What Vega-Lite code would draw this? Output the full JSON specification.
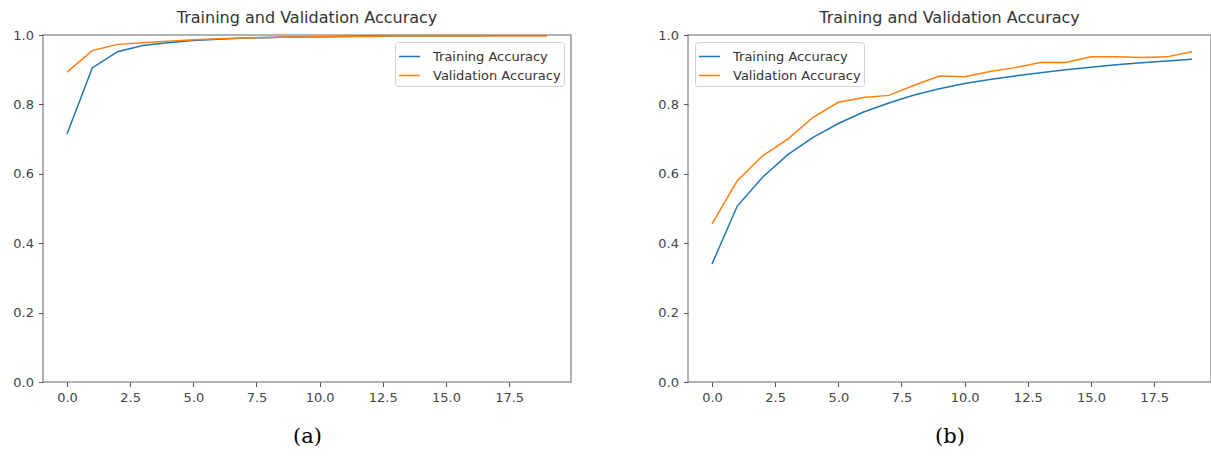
{
  "$schema": "https://vega.github.io/schema/vega-lite/v6.json",
  "background": "white",
  "padding": {"left": 12, "top": 9, "right": 0, "bottom": 0},
  "bounds": "flush",
  "spacing": 117,
  "config": {
    "font": "DejaVu Sans",
    "view": {"stroke": "#999999", "strokeWidth": 1.5},
    "axis": {
      "grid": false,
      "domain": false,
      "tickColor": "#555555",
      "tickSize": 4.5,
      "tickWidth": 1,
      "labelFont": "DejaVu Sans",
      "labelFontSize": 13,
      "labelColor": "#444444",
      "labelPadding": 5
    },
    "title": {"font": "DejaVu Sans", "fontSize": 16, "fontWeight": "normal", "color": "#333333", "offset": 3},
    "legend": {
      "labelFont": "DejaVu Sans",
      "labelFontSize": 13,
      "labelColor": "#333333",
      "symbolType": "stroke",
      "symbolSize": 441,
      "symbolStrokeWidth": 1.5,
      "labelOffset": 12,
      "rowPadding": 0,
      "padding": 3,
      "offset": 7,
      "strokeColor": "#d0d0d0",
      "fillColor": "white",
      "cornerRadius": 3
    }
  },
  "datasets": {
    "a": [
      {"epoch": 0, "series": "Training Accuracy", "accuracy": 0.715},
      {"epoch": 1, "series": "Training Accuracy", "accuracy": 0.905},
      {"epoch": 2, "series": "Training Accuracy", "accuracy": 0.952},
      {"epoch": 3, "series": "Training Accuracy", "accuracy": 0.970},
      {"epoch": 4, "series": "Training Accuracy", "accuracy": 0.978},
      {"epoch": 5, "series": "Training Accuracy", "accuracy": 0.984},
      {"epoch": 6, "series": "Training Accuracy", "accuracy": 0.988},
      {"epoch": 7, "series": "Training Accuracy", "accuracy": 0.991},
      {"epoch": 8, "series": "Training Accuracy", "accuracy": 0.993},
      {"epoch": 9, "series": "Training Accuracy", "accuracy": 0.994},
      {"epoch": 10, "series": "Training Accuracy", "accuracy": 0.995},
      {"epoch": 11, "series": "Training Accuracy", "accuracy": 0.996},
      {"epoch": 12, "series": "Training Accuracy", "accuracy": 0.997},
      {"epoch": 13, "series": "Training Accuracy", "accuracy": 0.997},
      {"epoch": 14, "series": "Training Accuracy", "accuracy": 0.998},
      {"epoch": 15, "series": "Training Accuracy", "accuracy": 0.998},
      {"epoch": 16, "series": "Training Accuracy", "accuracy": 0.998},
      {"epoch": 17, "series": "Training Accuracy", "accuracy": 0.999},
      {"epoch": 18, "series": "Training Accuracy", "accuracy": 0.999},
      {"epoch": 19, "series": "Training Accuracy", "accuracy": 0.999},
      {"epoch": 0, "series": "Validation Accuracy", "accuracy": 0.893},
      {"epoch": 1, "series": "Validation Accuracy", "accuracy": 0.955},
      {"epoch": 2, "series": "Validation Accuracy", "accuracy": 0.973},
      {"epoch": 3, "series": "Validation Accuracy", "accuracy": 0.978},
      {"epoch": 4, "series": "Validation Accuracy", "accuracy": 0.982},
      {"epoch": 5, "series": "Validation Accuracy", "accuracy": 0.986},
      {"epoch": 6, "series": "Validation Accuracy", "accuracy": 0.989},
      {"epoch": 7, "series": "Validation Accuracy", "accuracy": 0.991},
      {"epoch": 8, "series": "Validation Accuracy", "accuracy": 0.993},
      {"epoch": 9, "series": "Validation Accuracy", "accuracy": 0.994},
      {"epoch": 10, "series": "Validation Accuracy", "accuracy": 0.995},
      {"epoch": 11, "series": "Validation Accuracy", "accuracy": 0.996},
      {"epoch": 12, "series": "Validation Accuracy", "accuracy": 0.996},
      {"epoch": 13, "series": "Validation Accuracy", "accuracy": 0.997},
      {"epoch": 14, "series": "Validation Accuracy", "accuracy": 0.997},
      {"epoch": 15, "series": "Validation Accuracy", "accuracy": 0.997},
      {"epoch": 16, "series": "Validation Accuracy", "accuracy": 0.997},
      {"epoch": 17, "series": "Validation Accuracy", "accuracy": 0.997},
      {"epoch": 18, "series": "Validation Accuracy", "accuracy": 0.997},
      {"epoch": 19, "series": "Validation Accuracy", "accuracy": 0.997}
    ],
    "b": [
      {"epoch": 0, "series": "Training Accuracy", "accuracy": 0.340},
      {"epoch": 1, "series": "Training Accuracy", "accuracy": 0.507},
      {"epoch": 2, "series": "Training Accuracy", "accuracy": 0.590},
      {"epoch": 3, "series": "Training Accuracy", "accuracy": 0.655},
      {"epoch": 4, "series": "Training Accuracy", "accuracy": 0.705},
      {"epoch": 5, "series": "Training Accuracy", "accuracy": 0.745},
      {"epoch": 6, "series": "Training Accuracy", "accuracy": 0.778},
      {"epoch": 7, "series": "Training Accuracy", "accuracy": 0.804},
      {"epoch": 8, "series": "Training Accuracy", "accuracy": 0.827},
      {"epoch": 9, "series": "Training Accuracy", "accuracy": 0.845},
      {"epoch": 10, "series": "Training Accuracy", "accuracy": 0.860},
      {"epoch": 11, "series": "Training Accuracy", "accuracy": 0.872},
      {"epoch": 12, "series": "Training Accuracy", "accuracy": 0.882},
      {"epoch": 13, "series": "Training Accuracy", "accuracy": 0.891},
      {"epoch": 14, "series": "Training Accuracy", "accuracy": 0.900},
      {"epoch": 15, "series": "Training Accuracy", "accuracy": 0.907},
      {"epoch": 16, "series": "Training Accuracy", "accuracy": 0.914},
      {"epoch": 17, "series": "Training Accuracy", "accuracy": 0.920},
      {"epoch": 18, "series": "Training Accuracy", "accuracy": 0.925},
      {"epoch": 19, "series": "Training Accuracy", "accuracy": 0.930},
      {"epoch": 0, "series": "Validation Accuracy", "accuracy": 0.456},
      {"epoch": 1, "series": "Validation Accuracy", "accuracy": 0.580},
      {"epoch": 2, "series": "Validation Accuracy", "accuracy": 0.652},
      {"epoch": 3, "series": "Validation Accuracy", "accuracy": 0.700},
      {"epoch": 4, "series": "Validation Accuracy", "accuracy": 0.763},
      {"epoch": 5, "series": "Validation Accuracy", "accuracy": 0.806},
      {"epoch": 6, "series": "Validation Accuracy", "accuracy": 0.820},
      {"epoch": 7, "series": "Validation Accuracy", "accuracy": 0.826},
      {"epoch": 8, "series": "Validation Accuracy", "accuracy": 0.855},
      {"epoch": 9, "series": "Validation Accuracy", "accuracy": 0.882},
      {"epoch": 10, "series": "Validation Accuracy", "accuracy": 0.880},
      {"epoch": 11, "series": "Validation Accuracy", "accuracy": 0.895},
      {"epoch": 12, "series": "Validation Accuracy", "accuracy": 0.906},
      {"epoch": 13, "series": "Validation Accuracy", "accuracy": 0.921},
      {"epoch": 14, "series": "Validation Accuracy", "accuracy": 0.921},
      {"epoch": 15, "series": "Validation Accuracy", "accuracy": 0.937},
      {"epoch": 16, "series": "Validation Accuracy", "accuracy": 0.937},
      {"epoch": 17, "series": "Validation Accuracy", "accuracy": 0.935},
      {"epoch": 18, "series": "Validation Accuracy", "accuracy": 0.937},
      {"epoch": 19, "series": "Validation Accuracy", "accuracy": 0.952}
    ]
  },
  "resolve": {"legend": {"color": "independent"}},
  "hconcat": [
    {
      "width": 528,
      "height": 347,
      "data": {"name": "a"},
      "title": {"text": "Training and Validation Accuracy"},
      "mark": {"type": "line", "strokeWidth": 1.5, "clip": true},
      "encoding": {
        "x": {
          "field": "epoch", "type": "quantitative",
          "scale": {"domain": [-0.95, 19.95], "nice": false, "zero": false},
          "axis": {
            "values": [0, 2.5, 5, 7.5, 10, 12.5, 15, 17.5], "format": ".1f",
            "title": "(a)", "titleFont": "DejaVu Serif", "titleFontSize": 21, "titleFontWeight": "normal",
            "titleColor": "#000000", "titlePadding": 21
          }
        },
        "y": {
          "field": "accuracy", "type": "quantitative",
          "scale": {"domain": [0, 1], "nice": false},
          "axis": {"values": [0, 0.2, 0.4, 0.6, 0.8, 1.0], "format": ".1f", "title": null}
        },
        "color": {
          "field": "series", "type": "nominal",
          "scale": {"domain": ["Training Accuracy", "Validation Accuracy"], "range": ["#1f77b4", "#ff7f0e"]},
          "legend": {"orient": "top-right", "title": null}
        }
      }
    },
    {
      "width": 523,
      "height": 347,
      "data": {"name": "b"},
      "title": {"text": "Training and Validation Accuracy"},
      "mark": {"type": "line", "strokeWidth": 1.5, "clip": true},
      "encoding": {
        "x": {
          "field": "epoch", "type": "quantitative",
          "scale": {"domain": [-0.95, 19.75], "nice": false, "zero": false},
          "axis": {
            "values": [0, 2.5, 5, 7.5, 10, 12.5, 15, 17.5], "format": ".1f",
            "title": "(b)", "titleFont": "DejaVu Serif", "titleFontSize": 21, "titleFontWeight": "normal",
            "titleColor": "#000000", "titlePadding": 21
          }
        },
        "y": {
          "field": "accuracy", "type": "quantitative",
          "scale": {"domain": [0, 1], "nice": false},
          "axis": {"values": [0, 0.2, 0.4, 0.6, 0.8, 1.0], "format": ".1f", "title": null}
        },
        "color": {
          "field": "series", "type": "nominal",
          "scale": {"domain": ["Training Accuracy", "Validation Accuracy"], "range": ["#1f77b4", "#ff7f0e"]},
          "legend": {"orient": "top-left", "title": null}
        }
      }
    }
  ]
}
